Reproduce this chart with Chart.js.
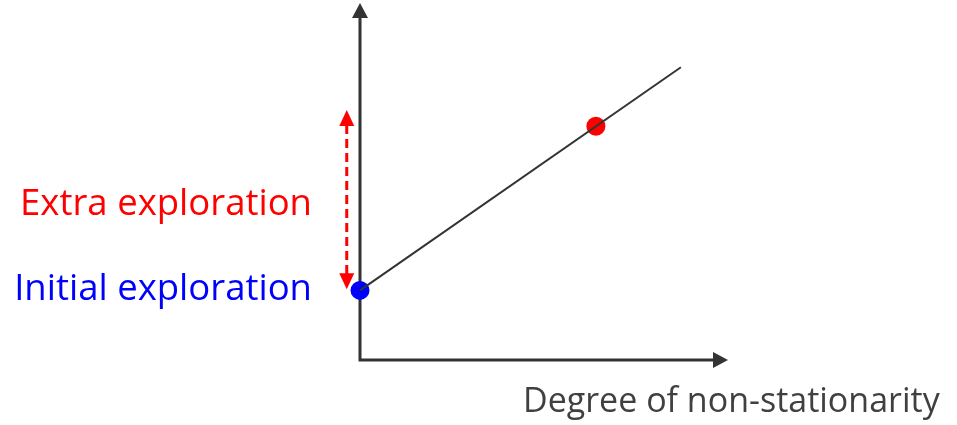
<!DOCTYPE html>
<html>
<head>
<meta charset="utf-8">
<script src="https://cdn.jsdelivr.net/npm/chart.js@4.4.1/dist/chart.umd.min.js"></script>
<style>
  html, body { margin: 0; padding: 0; background: #fff; }
  #wrap { width: 957px; height: 425px; position: relative; }
</style>
</head>
<body>
<div id="wrap"><canvas id="chart"></canvas></div>
<script>
// trend line (degree of non-stationarity -> exploration)
const lineX = [0, 8.72];
const lineY = [1.95, 8.2];

// marked points
const initialPoint = [0, 1.95];
const extraPoint = [6.41, 6.55];

// dashed "extra exploration" arrow, at x just left of the y axis
const arrowX = -0.36;
const arrowFrom = 1.98;
const arrowTo = 7.0;

// text labels
const xLabel = 'Degree of non-stationarity';
const labelExtra = 'Extra exploration';
const labelInitial = 'Initial exploration';

const AXIS_COLOR = '#333333';
const FONT = '"Open Sans", "Noto Sans", sans-serif';

function arrowHead(ctx, x, y, dir, w, h, color) {
  // dir: 'up' | 'down' | 'right'
  ctx.save();
  ctx.fillStyle = color;
  ctx.beginPath();
  if (dir === 'up') {
    ctx.moveTo(x, y); ctx.lineTo(x - w / 2, y + h); ctx.lineTo(x + w / 2, y + h);
  } else if (dir === 'down') {
    ctx.moveTo(x, y); ctx.lineTo(x - w / 2, y - h); ctx.lineTo(x + w / 2, y - h);
  } else {
    ctx.moveTo(x, y); ctx.lineTo(x - h, y - w / 2); ctx.lineTo(x - h, y + w / 2);
  }
  ctx.closePath();
  ctx.fill();
  ctx.restore();
}

function fitText(ctx, text, width, maxSize) {
  let size = maxSize;
  ctx.font = `${size}px ${FONT}`;
  while (ctx.measureText(text).width > width && size > 8) {
    size -= 0.5;
    ctx.font = `${size}px ${FONT}`;
  }
  return size;
}

const decorations = {
  id: 'decorations',
  beforeDatasetsDraw(chart) {
    const { ctx, chartArea: a, scales: { x, y } } = chart;

    // axes with arrows
    ctx.save();
    ctx.strokeStyle = AXIS_COLOR;
    ctx.lineWidth = 3;
    ctx.beginPath();
    ctx.moveTo(a.left, a.top + 12);
    ctx.lineTo(a.left, a.bottom);
    ctx.lineTo(a.right - 12, a.bottom);
    ctx.stroke();
    ctx.restore();
    arrowHead(ctx, a.left, a.top, 'up', 16, 15, AXIS_COLOR);
    arrowHead(ctx, a.right, a.bottom, 'right', 16, 15, AXIS_COLOR);

    // dashed red double arrow
    const ax = x.getPixelForValue(arrowX);
    const yTop = y.getPixelForValue(arrowTo);
    const yBot = y.getPixelForValue(arrowFrom);
    ctx.save();
    ctx.strokeStyle = '#ff0000';
    ctx.lineWidth = 3;
    ctx.setLineDash([9, 5]);
    ctx.beginPath();
    ctx.moveTo(ax, yTop + 15);
    ctx.lineTo(ax, yBot - 15);
    ctx.stroke();
    ctx.restore();
    arrowHead(ctx, ax, yTop, 'up', 15, 16, '#ff0000');
    arrowHead(ctx, ax, yBot, 'down', 15, 16, '#ff0000');
  },
  afterDraw(chart) {
    const { ctx } = chart;
    ctx.save();
    ctx.textBaseline = 'alphabetic';

    ctx.textAlign = 'right';
    fitText(ctx, labelExtra, 294, 40);
    ctx.fillStyle = '#ff0000';
    ctx.fillText(labelExtra, 312, 215);

    fitText(ctx, labelInitial, 300, 40);
    ctx.fillStyle = '#0000ff';
    ctx.fillText(labelInitial, 312, 300);

    ctx.textAlign = 'left';
    fitText(ctx, xLabel, 421, 40);
    ctx.fillStyle = '#404040';
    ctx.fillText(xLabel, 523, 412);
    ctx.restore();
  }
};

new Chart(document.getElementById('chart'), {
  type: 'scatter',
  data: {
    datasets: [
      {
        data: lineX.map((v, i) => ({ x: v, y: lineY[i] })),
        showLine: true,
        borderColor: AXIS_COLOR,
        borderWidth: 2,
        pointRadius: 0,
        clip: false,
      },
      {
        data: [{ x: extraPoint[0], y: extraPoint[1] }],
        backgroundColor: '#ff0000',
        borderWidth: 0,
        pointRadius: 9.5,
        clip: false,
      },
      {
        data: [{ x: initialPoint[0], y: initialPoint[1] }],
        backgroundColor: '#0000ff',
        borderWidth: 0,
        pointRadius: 9.5,
        clip: false,
      },
    ]
  },
  options: {
    responsive: true,
    maintainAspectRatio: false,
    animation: false,
    layout: { autoPadding: false, padding: { left: 360, right: 229, top: 3, bottom: 65 } },
    plugins: { legend: { display: false }, tooltip: { enabled: false } },
    scales: {
      x: { type: 'linear', min: 0, max: 10, display: false },
      y: { type: 'linear', min: 0, max: 10, display: false },
    }
  },
  plugins: [decorations]
});
</script>
</body>
</html>
